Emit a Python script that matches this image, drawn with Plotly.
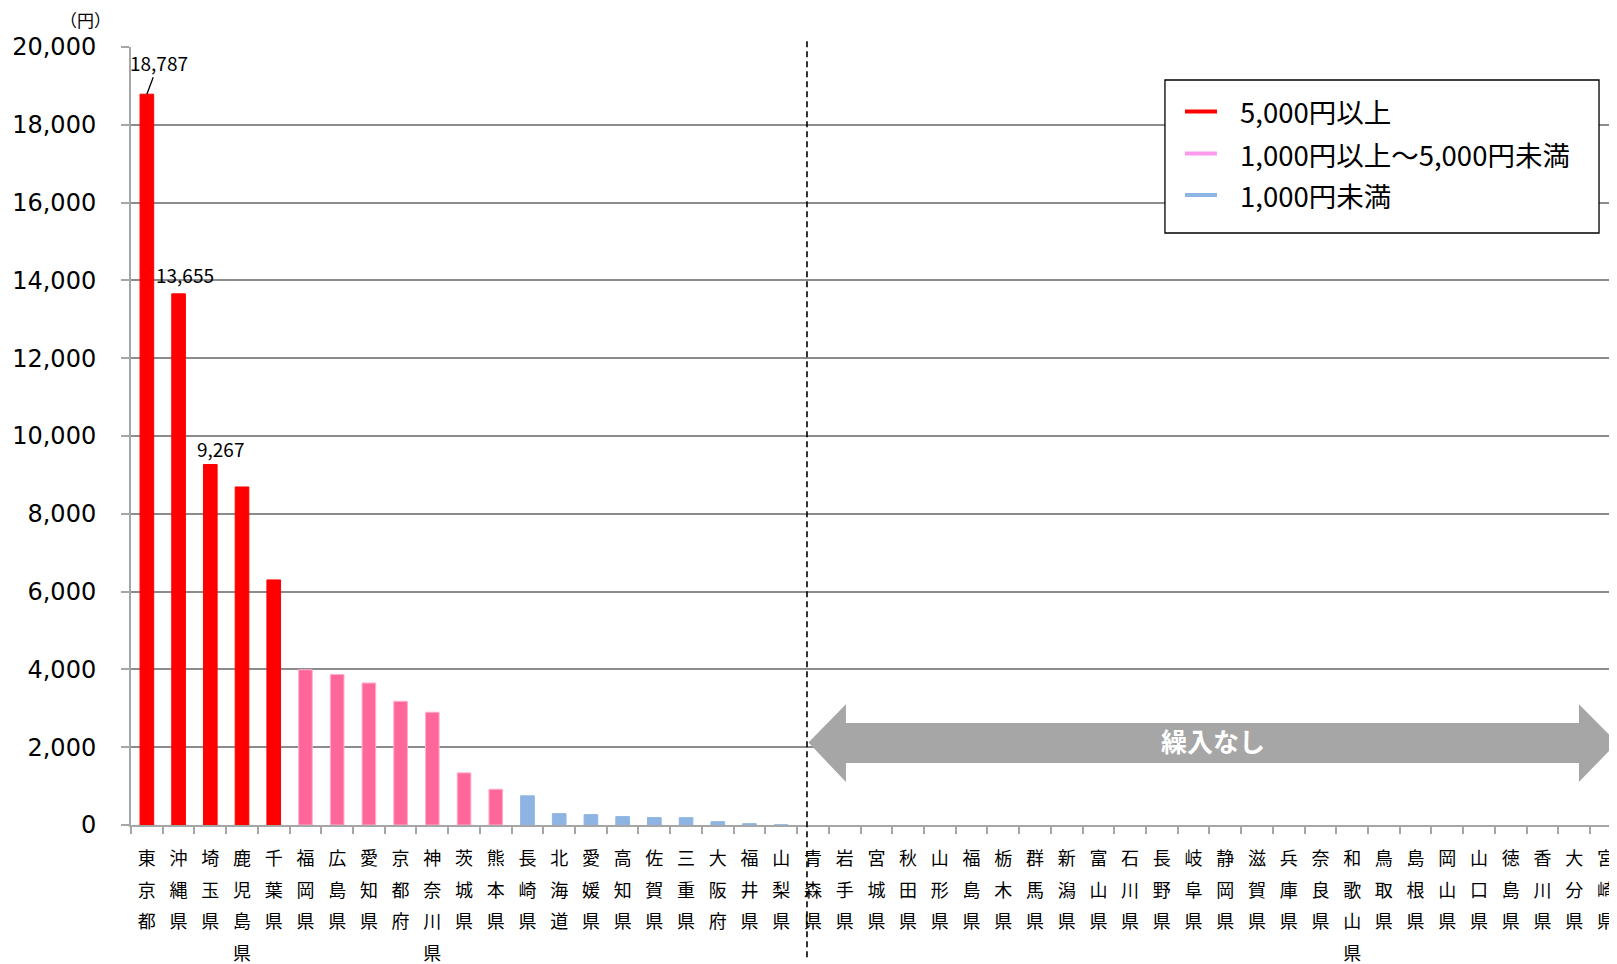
import plotly.graph_objects as go

# prefectures in chart order (left -> right)
prefs = ["東京都", "沖縄県", "埼玉県", "鹿児島県", "千葉県",
         "福岡県", "広島県", "愛知県", "京都府", "神奈川県", "茨城県", "熊本県",
         "長崎県", "北海道", "愛媛県", "高知県", "佐賀県", "三重県", "大阪府", "福井県", "山梨県",
         "青森県", "岩手県", "宮城県", "秋田県", "山形県", "福島県", "栃木県", "群馬県", "新潟県",
         "富山県", "石川県", "長野県", "岐阜県", "静岡県", "滋賀県", "兵庫県", "奈良県", "和歌山県",
         "鳥取県", "島根県", "岡山県", "山口県", "徳島県", "香川県", "大分県", "宮崎県"]

# 5,000円以上
high_prefs = ["東京都", "沖縄県", "埼玉県", "鹿児島県", "千葉県"]
high_vals = [18787, 13655, 9267, 8690, 6300]
# 1,000円以上～5,000円未満
mid_prefs = ["福岡県", "広島県", "愛知県", "京都府", "神奈川県", "茨城県", "熊本県"]
mid_vals = [3990, 3870, 3650, 3180, 2900, 1340, 920]
# 1,000円未満
low_prefs = ["長崎県", "北海道", "愛媛県", "高知県", "佐賀県", "三重県", "大阪府", "福井県", "山梨県"]
low_vals = [750, 292, 266, 215, 190, 188, 86, 34, 5]

legend_labels = ["5,000円以上", "1,000円以上～5,000円未満", "1,000円未満"]

y_ticks = [0, 2000, 4000, 6000, 8000, 10000, 12000, 14000, 16000, 18000, 20000]

red = "#FF0000"
pink = "#FF6699"
blue = "#8DB4E2"
grid = "#8C8C8C"
cjk = "Noto Sans CJK JP"


def vert(name):
    # stack the characters of a name vertically
    return "<br>".join('<span style="font-size:18px">%s</span>' % c for c in name)


fig = go.Figure()
for names, vals, col, edge in [(high_prefs, high_vals, red, red),
                               (mid_prefs, mid_vals, pink, "#FFB0CC"),
                               (low_prefs, low_vals, blue, blue)]:
    fig.add_trace(go.Bar(x=[vert(n) for n in names], y=vals,
                         marker=dict(color=col, line=dict(color=edge, width=1)),
                         showlegend=False, hoverinfo="skip"))

# value labels
fig.add_annotation(x=vert(high_prefs[0]), y=high_vals[0], text=f"{high_vals[0]:,}",
                   showarrow=True, arrowhead=0, arrowwidth=1.3, arrowcolor="black",
                   ax=12, ay=-32, font=dict(family=cjk, size=19, color="black"))
fig.add_annotation(x=vert(high_prefs[1]), y=high_vals[1], text=f"{high_vals[1]:,}",
                   showarrow=False, yanchor="bottom", xshift=6, yshift=4,
                   font=dict(family=cjk, size=19, color="black"))
fig.add_annotation(x=vert(high_prefs[2]), y=high_vals[2], text=f"{high_vals[2]:,}",
                   showarrow=False, yanchor="bottom", xshift=10, yshift=1,
                   font=dict(family=cjk, size=19, color="black"))

# unit label
fig.add_annotation(xref="paper", yref="paper", x=-0.0303, y=1.035, text="（円）",
                   showarrow=False, xanchor="center", yanchor="middle",
                   font=dict(family=cjk, size=17, color="black"))

# legend box drawn by hand (short line keys, like the original)
fig.add_shape(type="rect", xref="paper", yref="paper",
              x0=0.6958, x1=0.9879, y0=0.7609, y1=0.9576,
              fillcolor="white", line=dict(color="black", width=1.3))
for ly, label, col in zip([0.9171, 0.8631, 0.8098], legend_labels, [red, "#FF99EE", blue]):
    fig.add_shape(type="line", xref="paper", yref="paper",
                  x0=0.7093, x1=0.7308, y0=ly, y1=ly,
                  line=dict(color=col, width=4))
    fig.add_annotation(xref="paper", yref="paper", x=0.7450, y=ly, text=label,
                       showarrow=False, xanchor="left", yanchor="middle",
                       font=dict(family=cjk, size=27.5, color="black"))

# "繰入なし" double arrow
fig.add_shape(type="path",
              path="M 20.86,2118 L 22.04,3106 L 22.04,2619 L 45.15,2619 L 45.15,3106 "
                   "L 46.35,2118 L 45.15,1104 L 45.15,1592 L 22.04,1592 L 22.04,1104 Z",
              xref="x", yref="y", fillcolor="#A6A6A6", line=dict(width=0))
fig.add_annotation(x=33.6, y=2118, text="繰入なし", showarrow=False, yshift=2,
                   font=dict(family=cjk, size=26, color="white", weight="bold"))

# divider between prefectures with / without transfers
fig.add_shape(type="line", xref="paper", yref="paper", x0=0.4549, x1=0.4549,
              y0=-0.17, y1=1.012, line=dict(color="black", width=1.6, dash="6px,4px"))

# page body has an 8px margin, so the figure is 8px smaller each way
fig.update_layout(width=1609, height=956,
                  margin=dict(l=123, r=0, t=39, b=139),
                  plot_bgcolor="white", paper_bgcolor="white",
                  barmode="overlay", bargap=0.57,
                  showlegend=False)

fig.update_xaxes(type="category", categoryorder="array",
                 categoryarray=[vert(p) for p in prefs],
                 range=[-0.5, 46.35],
                 showline=True, linecolor="#A6A6A6", linewidth=2,
                 ticks="outside", tickson="boundaries", ticklen=7,
                 tickcolor="#A6A6A6", tickwidth=2,
                 tickangle=0, ticklabelstandoff=8,
                 tickfont=dict(family=cjk, size=24.6, color="black"),
                 showgrid=False, zeroline=False)
fig.update_yaxes(range=[0, 20000], tickvals=y_ticks,
                 ticktext=[f"{v:,}" for v in y_ticks],
                 showline=True, linecolor="#A6A6A6", linewidth=2,
                 ticks="outside", ticklen=8, tickcolor="#A6A6A6", tickwidth=2,
                 ticklabelstandoff=20,
                 tickfont=dict(family="DejaVu Sans", size=24, color="black"),
                 showgrid=True, gridcolor=grid, gridwidth=1.5,
                 zeroline=False)

fig.write_html("out.html")
